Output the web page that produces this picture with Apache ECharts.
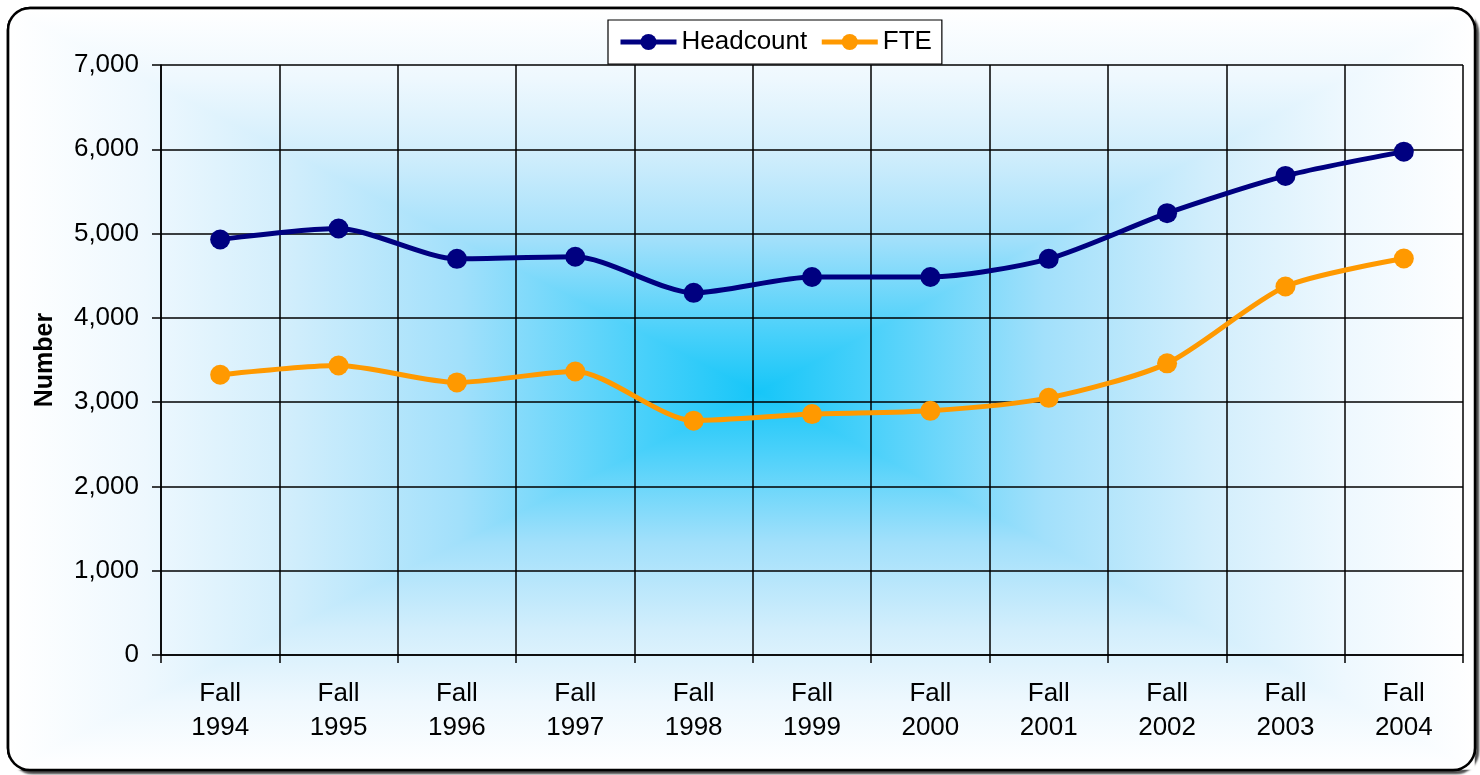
<!DOCTYPE html>
<html>
<head>
<meta charset="utf-8">
<title>Headcount and FTE</title>
<script src="https://cdn.jsdelivr.net/npm/echarts@6/dist/echarts.min.js"></script>
<style>
  html, body { margin: 0; padding: 0; background: #fff; }
  #chart { width: 1480px; height: 775px; }
</style>
</head>
<body>
<div id="chart"></div>
<script>
// values
const terms = ['Fall\n1994', 'Fall\n1995', 'Fall\n1996', 'Fall\n1997', 'Fall\n1998', 'Fall\n1999',
               'Fall\n2000', 'Fall\n2001', 'Fall\n2002', 'Fall\n2003', 'Fall\n2004'];
const headcount = [4930, 5060, 4700, 4725, 4297, 4485, 4485, 4700, 5242, 5684, 5972];
const fte = [3325, 3435, 3234, 3364, 2780, 2858, 2897, 3051, 3460, 4372, 4704];

const FONT = '"Liberation Sans", Arial, sans-serif';

// background: rectangular "path" gradient, built from 4 triangles
const box = { l: 10, t: 10, r: 1474, b: 769 };
const cx = 758, cy = 392;
const stops = [
  { offset: 0, color: '#16c6f8' },
  { offset: 0.15, color: '#47d0fa' },
  { offset: 0.4, color: '#a2e0fb' },
  { offset: 0.63, color: '#d2eefc' },
  { offset: 0.82, color: '#eef8fe' },
  { offset: 1, color: '#ffffff' }
];
function grad(x, y, x2, y2) {
  return { type: 'linear', x: x, y: y, x2: x2, y2: y2, colorStops: stops };
}
function tri(points, fill) {
  return {
    type: 'polygon', silent: true, z: -5,
    shape: { points: points },
    style: { fill: fill, stroke: fill, lineWidth: 1.5 }
  };
}

const chart = echarts.init(document.getElementById('chart'));
chart.setOption({
  animation: false,
  textStyle: { fontFamily: FONT },
  graphic: [
    {
      type: 'rect', silent: true, z: -10,
      shape: { x: 8, y: 8, width: 1467, height: 762, r: 22 },
      style: { fill: '#ffffff', stroke: '#000', lineWidth: 2.5,
               shadowColor: 'rgba(0,0,0,0.6)', shadowOffsetX: 3, shadowOffsetY: 3, shadowBlur: 2 }
    },
    tri([[box.l, box.t], [box.r, box.t], [cx, cy]], grad(0, 1, 0, 0)),
    tri([[box.l, box.b], [box.r, box.b], [cx, cy]], grad(0, 0, 0, 1)),
    tri([[box.l, box.t], [box.l, box.b], [cx, cy]], grad(1, 0, 0, 0)),
    tri([[box.r, box.t], [box.r, box.b], [cx, cy]], grad(0, 0, 1, 0)),
    {
      type: 'rect', silent: true, z: -4,
      shape: { x: 8, y: 8, width: 1467, height: 762, r: 22 },
      style: { fill: 'none', stroke: '#000', lineWidth: 2.5 }
    }
  ],
  legend: {
    left: 608, top: 20,
    padding: [9, 10, 9, 10],
    backgroundColor: '#fff',
    borderColor: '#000', borderWidth: 1.2,
    itemWidth: 56, itemHeight: 20, itemGap: 12,
    lineStyle: { width: 5 },
    textStyle: { fontFamily: FONT, fontSize: 26, color: '#000' },
    data: ['Headcount', 'FTE']
  },
  grid: { left: 161, right: 17, top: 65, bottom: 120, containLabel: false },
  xAxis: {
    type: 'category',
    data: terms,
    boundaryGap: true,
    axisLine: { lineStyle: { color: '#000', width: 1.5 } },
    axisTick: { show: true, length: 8, lineStyle: { color: '#000', width: 1.5 } },
    axisLabel: { color: '#000', fontSize: 26, lineHeight: 34, margin: 22, fontFamily: FONT },
    splitLine: { show: true, lineStyle: { color: '#000', width: 1.5 } }
  },
  yAxis: {
    type: 'value',
    min: 0, max: 7000, interval: 1000,
    name: 'Number',
    nameLocation: 'middle',
    nameGap: 103,
    nameTextStyle: { fontSize: 25, fontWeight: 'bold', color: '#000', fontFamily: FONT },
    axisLine: { show: true, lineStyle: { color: '#000', width: 1.5 } },
    axisTick: { show: true, length: 9, lineStyle: { color: '#000', width: 1.5 } },
    axisLabel: {
      color: '#000', fontSize: 26, margin: 22, fontFamily: FONT,
      formatter: v => v.toLocaleString('en-US')
    },
    splitLine: { show: true, lineStyle: { color: '#000', width: 1.5 } }
  },
  series: [
    {
      name: 'Headcount', type: 'line', data: headcount,
      smooth: 0.25, symbol: 'circle', symbolSize: 20,
      lineStyle: { color: '#000080', width: 5 },
      itemStyle: { color: '#000080' }, z: 4
    },
    {
      name: 'FTE', type: 'line', data: fte,
      smooth: 0.25, symbol: 'circle', symbolSize: 20,
      lineStyle: { color: '#ff9900', width: 5 },
      itemStyle: { color: '#ff9900' }, z: 3
    }
  ]
});
</script>
</body>
</html>
